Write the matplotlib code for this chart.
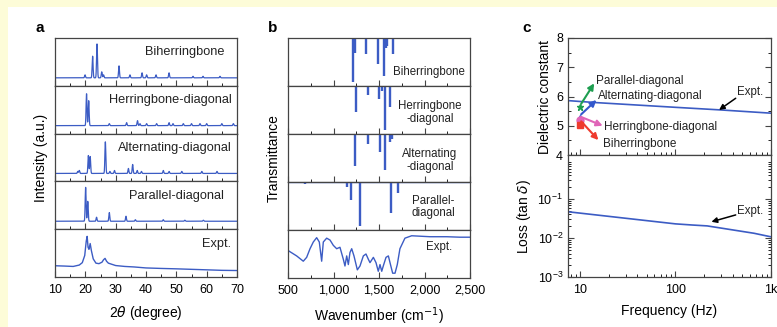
import numpy as np
import matplotlib
matplotlib.use("Agg")
import matplotlib.pyplot as plt
from matplotlib.patches import Rectangle
from matplotlib.ticker import FixedLocator, MultipleLocator, FuncFormatter, LogLocator, NullFormatter

plt.rcParams['font.family'] = ['Liberation Sans', 'DejaVu Sans']
plt.rcParams['font.size'] = 9
plt.rcParams['axes.labelsize'] = 10
plt.rcParams['xtick.labelsize'] = 9
plt.rcParams['ytick.labelsize'] = 9
plt.rcParams['xtick.direction'] = 'in'
plt.rcParams['ytick.direction'] = 'in'

# ---------------- data ----------------
# panel a: simulated XRD peaks (2theta, intensity a.u.)
xrd_names = ["Biherringbone", "Herringbone-diagonal", "Alternating-diagonal", "Parallel-diagonal"]
bih_pos = [19.9, 22.4, 23.85, 25.4, 26.0, 31.1, 34.7, 38.7, 40.2, 43.3, 47.6, 55.5, 58.8, 64.4]
bih_h = [3, 21.7, 34, 6, 3, 12, 3, 5, 3, 3, 5, 1.5, 1.5, 1.5]
hd_pos = [20.4, 21.1, 27.9, 33.6, 37.2, 38.0, 40.2, 43.5, 47.6, 48.9, 52.3, 55.0, 57.8, 60.0, 65.0, 68.8]
hd_h = [32, 25, 2, 3, 5, 2, 2, 2, 3, 2, 2, 2, 2, 2, 2, 2]
ad_pos = [17.5, 18.0, 21.0, 21.6, 26.6, 28.1, 29.6, 34.2, 35.6, 37.1, 38.5, 45.7, 47.6, 51.8, 58.4, 63.4]
ad_h = [2, 3, 18, 17, 31.7, 2, 3, 5, 9, 3, 2, 3, 2, 2, 2, 2]
pd_pos = [20.1, 20.8, 23.7, 27.9, 33.4, 36.5, 45.7, 52.8, 58.9]
pd_h = [34, 20, 4, 8.7, 5, 1.5, 1.5, 1, 1]
xrd_expt_x = [10, 13, 16, 18, 19, 19.8, 20.3, 20.6, 20.9, 21.2, 21.6, 22.0, 22.6, 23.5, 24.5, 25.5,
              26.0, 26.5, 27.0, 27.6, 28.5, 30, 33, 36, 40, 45, 50, 55, 60, 65, 70]
xrd_expt_y = [3.3, 3.0, 2.6, 4.0, 6.4, 13.6, 28.0, 32.8, 21.8, 19.8, 25.6, 18.4, 10.2, 5.9, 5.4, 6.9,
              9.3, 10.7, 7.8, 5.9, 5.0, 3.5, 2.6, 2.1, 1.1, 0.6, 0.2, -0.3, -0.8, -1.3, -1.5]

# panel b: simulated IR sticks (wavenumber, depth a.u.)
ir_names = ["Biherringbone", "Herringbone\n-diagonal", "Alternating\n-diagonal", "Parallel-\ndiagonal"]
ir_bih_wn = [705, 1218, 1236, 1357, 1492, 1555, 1572, 1590, 1650]
ir_bih_d = [1, 44, 15, 16, 26, 38, 10, 8, 16]
ir_hd_wn = [690, 1248, 1375, 1436, 1503, 1530, 1569, 1624]
ir_hd_d = [1, 26, 9, 1, 13, 5, 44, 21]
ir_ad_wn = [690, 1240, 1383, 1510, 1562, 1621, 1640]
ir_ad_d = [1, 32, 10, 17.7, 36, 7.7, 5]
ir_pd_wn = [687, 888, 1145, 1192, 1291, 1475, 1632, 1705]
ir_pd_d = [2, 1, 5, 18, 44, 1, 31, 11]
ir_expt_x = [503, 595, 668, 705, 742, 778, 815, 844, 870, 888, 925, 962, 998, 1035, 1071, 1108, 1126,
             1145, 1163, 1181, 1200, 1225, 1262, 1291, 1328, 1357, 1383, 1401, 1438, 1467, 1492, 1511,
             1530, 1547, 1577, 1603, 1621, 1650, 1676, 1701, 1730, 1785, 1859, 2060, 2244, 2390, 2500]
ir_expt_y = [0.57, 0.46, 0.35, 0.43, 0.61, 0.75, 0.84, 0.75, 0.35, 0.75, 0.83, 0.79, 0.68, 0.61, 0.64,
             0.39, 0.25, 0.46, 0.28, 0.53, 0.61, 0.46, 0.17, 0.25, 0.46, 0.50, 0.39, 0.32, 0.43, 0.32,
             0.14, 0.28, 0.14, 0.25, 0.43, 0.46, 0.32, 0.10, 0.10, 0.28, 0.61, 0.83, 0.88, 0.86, 0.86,
             0.85, 0.85]

# panel c: dielectric constant and loss
freq_eps = [7.5, 10, 15, 100, 300, 1000]
eps_expt = [5.86, 5.83, 5.79, 5.63, 5.54, 5.43]
freq_loss = [7.5, 100, 150, 215, 665, 1000]
loss_expt = [0.047, 0.023, 0.0215, 0.0204, 0.0132, 0.0107]
calc_names = ["Parallel-diagonal", "Alternating-diagonal", "Herringbone-diagonal", "Biherringbone"]
calc_eps = [5.63, 5.27, 5.18, 5.03]
calc_freq = 10

# ---------------- style ----------------
W, H = 777, 327
BLUE = '#3c5cc4'
SPINE = '#444444'
TXT = '#222222'

fig = plt.figure(figsize=(W / 100, H / 100), dpi=100, facecolor='#fdfcd8')
fig.patches.append(Rectangle((8 / W, 0), 1, 1 - 7 / H, transform=fig.transFigure,
                             facecolor='white', edgecolor='none', zorder=-10))


def fax(l, t, r, b):
    ax = fig.add_axes([l / W, 1 - b / H, (r - l) / W, (b - t) / H])
    for s in ax.spines.values():
        s.set_color(SPINE)
        s.set_linewidth(0.9)
    ax.tick_params(colors=SPINE, labelcolor='black', width=0.8)
    return ax


# ---------------- panel a ----------------
top, bot = 38, 277
hh = (bot - top) / 5
grid = np.linspace(10, 70, 6001)
xrd_sets = [(bih_pos, bih_h), (hd_pos, hd_h), (ad_pos, ad_h), (pd_pos, pd_h)]
for i in range(5):
    ax = fax(55, top + i * hh, 237, top + (i + 1) * hh)
    if i < 4:
        pos, h = xrd_sets[i]
        y = np.zeros_like(grid)
        for p, hv in zip(pos, h):
            y += hv * np.exp(-0.5 * ((grid - p) / 0.15) ** 2)
        ax.plot(grid, y, color=BLUE, lw=0.9)
        name = xrd_names[i]
    else:
        ax.plot(xrd_expt_x, xrd_expt_y, color=BLUE, lw=1.0)
        name = "Expt."
    ax.set_xlim(10, 70)
    ax.set_ylim(-8, 40)
    ax.set_yticks([])
    ax.xaxis.set_major_locator(MultipleLocator(10))
    ax.xaxis.set_minor_locator(MultipleLocator(5))
    ax.tick_params(axis='x', which='major', length=4)
    ax.tick_params(axis='x', which='minor', length=2)
    ax.text(0.97 if i in (1, 2, 4) else 0.93, 0.7, name, transform=ax.transAxes, ha='right',
            va='center', fontsize=9.2, color=TXT)
    if i < 4:
        ax.tick_params(axis='x', labelbottom=False)
    else:
        ax.tick_params(axis='x', pad=5)
        ax.set_xlabel('2$\\theta$ (degree)', labelpad=6)
    if i == 2:
        ax.set_ylabel('Intensity (a.u.)', labelpad=5)
fig.text(35 / W, 1 - 28 / H, 'a', fontsize=11, fontweight='bold', va='center')

# ---------------- panel b ----------------
top, bot = 38, 278
hh = (bot - top) / 5
ir_sets = [(ir_bih_wn, ir_bih_d), (ir_hd_wn, ir_hd_d), (ir_ad_wn, ir_ad_d), (ir_pd_wn, ir_pd_d)]
ir_lab_pos = [(0.97, 0.3, 'right'), (0.78, 0.45, 'center'), (0.78, 0.45, 'center'), (0.8, 0.48, 'center')]
for i in range(5):
    ax = fax(288, top + i * hh, 470, top + (i + 1) * hh)
    if i < 4:
        wn, d = ir_sets[i]
        ax.vlines(wn, [-v for v in d], 0, color=BLUE, lw=1.7)
        if i == 3:
            ax.axhline(0, color=BLUE, lw=1.0)
        ax.set_ylim(-48, 0)
        lx, ly, ha = ir_lab_pos[i]
        ax.text(lx, ly, ir_names[i], transform=ax.transAxes, ha=ha, va='center',
                fontsize=8.3, color=TXT, linespacing=1.1)
    else:
        ax.plot(ir_expt_x, ir_expt_y, color=BLUE, lw=1.0)
        ax.set_ylim(0, 1)
        ax.text(0.83, 0.64, 'Expt.', transform=ax.transAxes, ha='center', va='center',
                fontsize=8.3, color=TXT)
    ax.set_xlim(500, 2500)
    ax.set_yticks([])
    ax.xaxis.set_major_locator(MultipleLocator(500))
    ax.xaxis.set_minor_locator(MultipleLocator(250))
    ax.tick_params(axis='x', which='major', length=4)
    ax.tick_params(axis='x', which='minor', length=2)
    if i < 4:
        ax.tick_params(axis='x', labelbottom=False)
    else:
        ax.xaxis.set_major_formatter(FuncFormatter(lambda v, p: f'{int(v):,}'))
        ax.tick_params(axis='x', pad=5)
        ax.set_xlabel('Wavenumber (cm$^{-1}$)', labelpad=6)
    if i == 2:
        ax.set_ylabel('Transmittance', labelpad=5)
fig.text(268 / W, 1 - 28 / H, 'b', fontsize=11, fontweight='bold', va='center')

# ---------------- panel c ----------------
axe = fax(568, 38, 771, 155)
axl = fax(568, 155, 771, 277)
for ax in (axe, axl):
    ax.set_xscale('log')
    ax.set_xlim(7.5, 1000)
    ax.tick_params(which='both', right=True)
    ax.tick_params(which='major', length=4)
    ax.tick_params(which='minor', length=2)

axe.plot(freq_eps, eps_expt, color=BLUE, lw=1.2)
axe.set_ylim(4, 8)
axe.yaxis.set_major_locator(MultipleLocator(1))
axe.yaxis.set_minor_locator(MultipleLocator(0.5))
axe.tick_params(axis='x', which='both', labelbottom=False)
axe.set_ylabel('Dielectric constant', labelpad=3)

calc_cols = ['#1e9e50', '#3358cc', '#e066b8', '#ee3b2e']
calc_mk = ['*', '^', 'o', 's']
heads = [(14.1, 6.45), (14.9, 5.88), (17.3, 5.0), (15.6, 4.51)]
txt_xy = [(14.8, 6.54), (15.5, 6.0), (18.0, 4.97), (17.5, 4.38)]
for k in range(4):
    axe.plot(calc_freq, calc_eps[k], marker=calc_mk[k], color=calc_cols[k], ms=5, ls='none')
    axe.annotate('', xy=heads[k], xytext=(calc_freq * 1.03, calc_eps[k] + 0.12),
                 arrowprops=dict(arrowstyle='-|>', color=calc_cols[k], lw=1.5, mutation_scale=9,
                                 shrinkA=0, shrinkB=0))
    axe.text(txt_xy[k][0], txt_xy[k][1], calc_names[k], fontsize=8.5, color=TXT, ha='left', va='center')
axe.annotate('', xy=(286, 5.54), xytext=(427, 5.94),
             arrowprops=dict(arrowstyle='-|>', color='black', lw=1.1, mutation_scale=8,
                             shrinkA=0, shrinkB=0))
axe.text(440, 6.16, 'Expt.', fontsize=8.3, color=TXT, ha='left', va='center')

axl.plot(freq_loss, loss_expt, color=BLUE, lw=1.2)
axl.set_yscale('log')
axl.set_ylim(1e-3, 1.34)
axl.yaxis.set_major_locator(FixedLocator([1e-3, 1e-2, 1e-1]))
axl.yaxis.set_minor_locator(LogLocator(subs=np.arange(2, 10)))
axl.yaxis.set_minor_formatter(NullFormatter())
axl.xaxis.set_major_locator(FixedLocator([10, 100, 1000]))
axl.xaxis.set_major_formatter(FuncFormatter(lambda v, p: {10: '10', 100: '100', 1000: '1k'}.get(int(round(v)), '')))
axl.tick_params(axis='x', which='major', pad=5)
axl.set_ylabel('Loss (tan $\\delta$)', labelpad=3)
axl.set_xlabel('Frequency (Hz)', labelpad=6)
axl.annotate('', xy=(238, 0.026), xytext=(427, 0.039),
             arrowprops=dict(arrowstyle='-|>', color='black', lw=1.1, mutation_scale=8,
                             shrinkA=0, shrinkB=0))
axl.text(440, 0.05, 'Expt.', fontsize=8.3, color=TXT, ha='left', va='center')
fig.text(522 / W, 1 - 28 / H, 'c', fontsize=11, fontweight='bold', va='center')

fig.savefig('out.png', dpi=100, facecolor=fig.get_facecolor())
